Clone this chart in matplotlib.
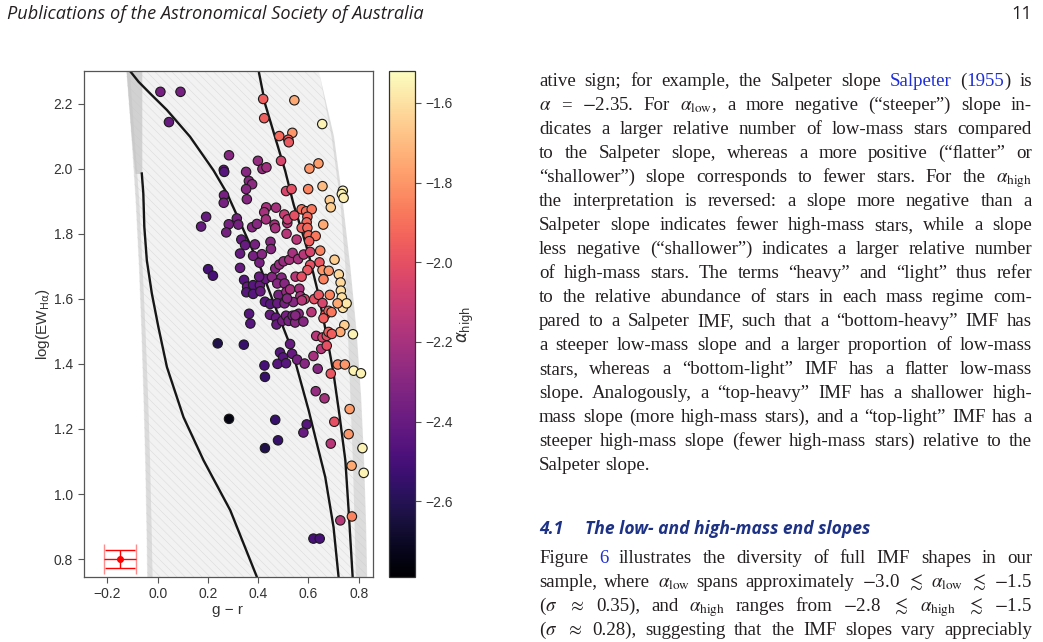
import re
import matplotlib
matplotlib.use("Agg")
import matplotlib.pyplot as plt

W, H = 1043, 642

# ---- scatter points: g - r, log(EW_Halpha), alpha_high ----
gr = [0.011, 0.091, 0.045, 0.420, 0.544, 0.424, 0.655, 0.484, 0.536, 0.520,
      0.522, 0.284, 0.263, 0.265, 0.399, 0.417, 0.433, 0.491, 0.604, 0.640,
      0.352, 0.363, 0.376, 0.352, 0.355, 0.511, 0.533, 0.599, 0.656, 0.737,
      0.733, 0.740, 0.685, 0.689, 0.264, 0.263, 0.193, 0.173, 0.283, 0.273,
      0.315, 0.321, 0.376, 0.395, 0.432, 0.424, 0.471, 0.431, 0.465, 0.468,
      0.504, 0.516, 0.517, 0.544, 0.513, 0.553, 0.573, 0.591, 0.613, 0.596,
      0.593, 0.573, 0.596, 0.600, 0.629, 0.603, 0.659, 0.647, 0.704, 0.644,
      0.721, 0.728, 0.729, 0.733, 0.737, 0.752, 0.716, 0.656, 0.681, 0.660,
      0.685, 0.743, 0.727, 0.777, 0.780, 0.809, 0.717, 0.745, 0.764, 0.760,
      0.815, 0.772, 0.820, 0.773, 0.727, 0.620, 0.645, 0.333, 0.348, 0.387,
      0.328, 0.380, 0.405, 0.415, 0.449, 0.451, 0.328, 0.344, 0.356, 0.353,
      0.380, 0.380, 0.407, 0.409, 0.429, 0.455, 0.468, 0.484, 0.501, 0.524,
      0.537, 0.559, 0.581, 0.607, 0.607, 0.596, 0.549, 0.573, 0.493, 0.476,
      0.505, 0.481, 0.512, 0.527, 0.564, 0.568, 0.585, 0.623, 0.641, 0.656,
      0.667, 0.680, 0.692, 0.612, 0.427, 0.448, 0.476, 0.505, 0.540, 0.447,
      0.471, 0.473, 0.496, 0.511, 0.521, 0.537, 0.547, 0.561, 0.580, 0.364,
      0.369, 0.239, 0.343, 0.527, 0.535, 0.487, 0.499, 0.477, 0.511, 0.555,
      0.585, 0.620, 0.631, 0.651, 0.637, 0.656, 0.673, 0.680, 0.673, 0.693,
      0.689, 0.425, 0.427, 0.284, 0.468, 0.593, 0.580, 0.479, 0.427, 0.629,
      0.664, 0.703, 0.689, 0.201, 0.220, 0.574, 0.660, 0.515, 0.548, 0.404]
log_ew = [2.236, 2.236, 2.143, 2.214, 2.210, 2.155, 2.137, 2.100, 2.110, 2.089,
          2.081, 2.041, 1.996, 1.990, 2.024, 1.999, 2.004, 2.024, 2.000, 2.016,
          1.990, 1.962, 1.952, 1.937, 1.906, 1.931, 1.937, 1.937, 1.946, 1.932,
          1.922, 1.910, 1.903, 1.881, 1.918, 1.895, 1.852, 1.822, 1.829, 1.804,
          1.847, 1.828, 1.820, 1.830, 1.881, 1.866, 1.880, 1.844, 1.828, 1.817,
          1.859, 1.833, 1.844, 1.856, 1.800, 1.782, 1.875, 1.869, 1.875, 1.852,
          1.835, 1.818, 1.818, 1.795, 1.793, 1.777, 1.828, 1.748, 1.720, 1.712,
          1.675, 1.650, 1.625, 1.604, 1.572, 1.586, 1.586, 1.688, 1.686, 1.660,
          1.612, 1.519, 1.498, 1.491, 1.379, 1.371, 1.398, 1.398, 1.261, 1.184,
          1.141, 1.087, 1.065, 0.931, 0.919, 0.863, 0.863, 1.782, 1.765, 1.767,
          1.739, 1.732, 1.711, 1.737, 1.775, 1.753, 1.695, 1.658, 1.637, 1.620,
          1.642, 1.615, 1.642, 1.623, 1.661, 1.667, 1.693, 1.705, 1.715, 1.720,
          1.741, 1.722, 1.736, 1.744, 1.704, 1.688, 1.668, 1.668, 1.665, 1.647,
          1.647, 1.612, 1.621, 1.629, 1.631, 1.608, 1.599, 1.599, 1.612, 1.587,
          1.551, 1.563, 1.559, 1.559, 1.591, 1.584, 1.586, 1.586, 1.590, 1.551,
          1.542, 1.521, 1.532, 1.548, 1.532, 1.548, 1.527, 1.554, 1.530, 1.554,
          1.524, 1.463, 1.459, 1.461, 1.431, 1.435, 1.420, 1.400, 1.402, 1.413,
          1.401, 1.424, 1.486, 1.446, 1.385, 1.481, 1.486, 1.498, 1.456, 1.492,
          1.370, 1.395, 1.360, 1.231, 1.228, 1.214, 1.189, 1.165, 1.141, 1.316,
          1.294, 1.222, 1.155, 1.691, 1.671, 1.595, 1.540, 1.601, 1.549, 1.668]
alpha_high = [-2.35, -2.35, -2.40, -1.95, -1.75, -1.95, -1.55, -1.92, -1.80, -1.95,
              -1.97, -2.30, -2.40, -2.45, -2.25, -2.25, -2.22, -2.05, -1.80, -1.78,
              -2.30, -2.30, -2.28, -2.30, -2.30, -2.05, -2.00, -1.85, -1.70, -1.55,
              -1.55, -1.56, -1.65, -1.65, -2.35, -2.35, -2.40, -2.40, -2.35, -2.35,
              -2.35, -2.35, -2.30, -2.30, -2.20, -2.20, -2.20, -2.20, -2.20, -2.20,
              -2.10, -2.15, -2.10, -2.00, -2.15, -2.15, -1.90, -1.90, -1.88, -1.92,
              -1.92, -1.95, -1.92, -1.92, -1.88, -1.95, -1.75, -1.85, -1.65, -1.98,
              -1.62, -1.62, -1.60, -1.60, -1.60, -1.58, -1.75, -1.80, -1.80, -1.85,
              -1.85, -1.65, -1.75, -1.55, -1.55, -1.55, -1.85, -1.80, -1.78, -1.80,
              -1.55, -1.75, -1.55, -1.85, -2.15, -2.50, -2.50, -2.40, -2.40, -2.35,
              -2.40, -2.35, -2.35, -2.30, -2.30, -2.30, -2.40, -2.45, -2.40, -2.45,
              -2.45, -2.45, -2.40, -2.40, -2.40, -2.30, -2.30, -2.25, -2.25, -2.20,
              -2.20, -2.20, -2.15, -2.05, -2.00, -1.98, -2.15, -2.00, -2.30, -2.30,
              -2.30, -2.35, -2.25, -2.20, -2.20, -2.20, -2.05, -2.00, -1.98, -2.05,
              -1.95, -1.95, -1.88, -2.15, -2.45, -2.45, -2.40, -2.35, -2.30, -2.40,
              -2.40, -2.40, -2.35, -2.35, -2.35, -2.35, -2.30, -2.30, -2.30, -2.45,
              -2.45, -2.62, -2.55, -2.40, -2.40, -2.45, -2.45, -2.45, -2.45, -2.35,
              -2.30, -2.20, -2.15, -2.15, -2.30, -2.05, -2.00, -1.95, -2.00, -1.95,
              -1.98, -2.50, -2.55, -2.75, -2.55, -2.45, -2.40, -2.55, -2.62, -2.25,
              -2.20, -2.00, -2.15, -2.50, -2.50, -2.15, -1.95, -2.30, -2.30, -2.40]

# ---- black model tracks ----
track_a_x = [-0.110, -0.076, -0.030, 0.037, 0.129, 0.222, 0.276, 0.342, 0.408,
             0.468, 0.535, 0.601, 0.634, 0.667, 0.700, 0.720]
track_a_y = [2.300, 2.267, 2.231, 2.180, 2.098, 1.995, 1.924, 1.811, 1.698,
             1.575, 1.442, 1.257, 1.154, 1.052, 0.898, 0.745]
track_b_x = [0.402, 0.428, 0.468, 0.508, 0.541, 0.574, 0.600, 0.638, 0.674,
             0.700, 0.724, 0.747, 0.760, 0.776]
track_b_y = [2.300, 2.198, 2.095, 1.992, 1.890, 1.808, 1.740, 1.620, 1.482,
             1.370, 1.240, 1.103, 0.950, 0.745]
track_c_x = [-0.063, -0.057, -0.053, -0.043, -0.023, 0.003, 0.037, 0.103,
             0.183, 0.289, 0.395]
track_c_y = [1.985, 1.924, 1.821, 1.718, 1.616, 1.513, 1.390, 1.236,
             1.103, 0.950, 0.745]

# ---- grey envelope of the model grid ----
fan_y = [2.30, 2.10, 1.90, 1.70, 1.50, 1.30, 1.10, 0.90, 0.745]
fan_left = [-0.125, -0.105, -0.088, -0.075, -0.065, -0.057, -0.050, -0.045, -0.042]
fan_left_dark = [-0.112, -0.094, -0.075, -0.062, -0.050, -0.040, -0.032, -0.026, -0.022]
fan_right_dark = [0.64, 0.69, 0.725, 0.745, 0.755, 0.765, 0.775, 0.782, 0.787]
fan_right = [0.64, 0.70, 0.735, 0.765, 0.79, 0.808, 0.82, 0.828, 0.832]
wedge_y = [2.30, 2.10, 1.985]
wedge_left = [-0.125, -0.105, -0.09]
wedge_right = [-0.063, -0.063, -0.063]

# typical uncertainty
err_x, err_y, err_dx, err_dy = -0.15, 0.80, 0.063, 0.028

x_ticks = [-0.2, 0.0, 0.2, 0.4, 0.6, 0.8]
y_ticks = [0.8, 1.0, 1.2, 1.4, 1.6, 1.8, 2.0, 2.2]
cbar_ticks = [-2.6, -2.4, -2.2, -2.0, -1.8, -1.6]

# ---- page text ----
header = "Publications of the Astronomical Society of Australia"
page_no = "11"
A = r"$\alpha$"
AL = r"$\alpha_\mathrm{low}$"
AH = r"$\alpha_\mathrm{high}$"
para1 = [
    "ative sign; for example, the Salpeter slope @Salpeter@ (@1955@) is",
    A + " = $-$2.35. For " + AL + ", a more negative (“steeper”) slope in-",
    "dicates a larger relative number of low-mass stars compared",
    "to the Salpeter slope, whereas a more positive (“ﬂatter” or",
    "“shallower”) slope corresponds to fewer stars. For the " + AH,
    "the interpretation is reversed: a slope more negative than a",
    "Salpeter slope indicates fewer high-mass stars, while a slope",
    "less negative (“shallower”) indicates a larger relative number",
    "of high-mass stars. The terms “heavy” and “light” thus refer",
    "to the relative abundance of stars in each mass regime com-",
    "pared to a Salpeter IMF, such that a “bottom-heavy” IMF has",
    "a steeper low-mass slope and a larger proportion of low-mass",
    "stars, whereas a “bottom-light” IMF has a ﬂatter low-mass",
    "slope. Analogously, a “top-heavy” IMF has a shallower high-",
    "mass slope (more high-mass stars), and a “top-light” IMF has a",
    "steeper high-mass slope (fewer high-mass stars) relative to the",
    "Salpeter slope.",
]
heading_no = "4.1"
heading = "The low- and high-mass end slopes"
para2 = [
    "Figure @6@ illustrates the diversity of full IMF shapes in our",
    "sample, where " + AL + r" spans approximately $-$3.0 $\lesssim$ " + AL + r" $\lesssim$ $-$1.5",
    r"($\sigma$ $\approx$ 0.35), and " + AH + r" ranges from $-$2.8 $\lesssim$ " + AH + r" $\lesssim$ $-$1.5",
    r"($\sigma$ $\approx$ 0.28), suggesting that the IMF slopes vary appreciably",
]

INK = "#231f20"
LINK = "#1f2fd6"
HEAD = "#1d3185"

plt.rcParams["font.family"] = ["Liberation Sans", "DejaVu Sans"]
plt.rcParams["hatch.linewidth"] = 0.35

fig = plt.figure(figsize=(W / 100, H / 100), dpi=100)
ax = fig.add_axes([83.5 / W, 1 - 577 / H, 289 / W, 506 / H])
cax = fig.add_axes([389 / W, 1 - 577 / H, 25.5 / W, 506 / H])

ax.fill_betweenx(fan_y, fan_left, fan_right, facecolor="#f2f2f2",
                 edgecolor="#d9d9d9", hatch="\\\\\\\\", linewidth=0, zorder=1)
ax.fill_betweenx(fan_y, fan_left, fan_left_dark, color="#cccccc",
                 alpha=0.6, linewidth=0, zorder=1)
ax.fill_betweenx(wedge_y, wedge_left, wedge_right, color="#c4c4c4",
                 alpha=0.7, linewidth=0, zorder=1)
ax.fill_betweenx(fan_y, fan_right_dark, fan_right, color="#c8c8c8",
                 alpha=0.5, linewidth=0, zorder=1)

for tx, ty in [(track_a_x, track_a_y), (track_b_x, track_b_y), (track_c_x, track_c_y)]:
    ax.plot(tx, ty, color="#161616", lw=1.7, zorder=2)

sc = ax.scatter(gr, log_ew, c=alpha_high, cmap="magma", vmin=-2.79, vmax=-1.52,
                s=46, edgecolors="#1a1a1a", linewidths=0.8, zorder=3)

eb = ax.errorbar(err_x, err_y, xerr=err_dx, yerr=err_dy, fmt="o", color="red",
                 ms=4, elinewidth=1.0, capsize=11, capthick=1.0, zorder=4)
for cl in eb[1]:
    if cl.get_marker() == "|":
        cl.set_alpha(0.45)

ax.set_xlim(-0.295, 0.855)
ax.set_ylim(0.745, 2.30)
ax.set_xticks(x_ticks)
ax.set_yticks(y_ticks)
ax.set_xticklabels([f"{v:.1f}".replace("-", "\u2212") for v in x_ticks])
ax.set_yticklabels([f"{v:.1f}" for v in y_ticks])
ax.set_xlabel("g \u2212 r", fontsize=11, color="#333333", labelpad=1)
ax.set_ylabel(r"log(EW$_{\mathrm{H\alpha}}$)", fontsize=11, color="#333333", labelpad=1)
for a in (ax, cax):
    for sp in a.spines.values():
        sp.set_color("#555555")
        sp.set_linewidth(0.9)
    a.tick_params(length=4, width=0.8, color="#555555", labelcolor="#333333",
                  labelsize=10)

cb = fig.colorbar(sc, cax=cax)
cb.set_ticks(cbar_ticks)
cb.ax.set_yticklabels([f"{v:.1f}".replace("-", "\u2212") for v in cbar_ticks])
cb.outline.set_edgecolor("#333333")
cb.outline.set_linewidth(0.9)
cb.set_label(r"$\alpha_{\mathrm{high}}$", fontsize=12, color="#333333", labelpad=2)

# ---- page text ----
SANS = ["Open Sans", "DejaVu Sans"]
fig.text(7 / W, 1 - 19 / H, header, family=SANS, style="italic", size=13.1,
         color=INK, va="baseline")
fig.text(1032 / W, 1 - 19 / H, page_no, family=SANS, size=13.1, color=INK,
         va="baseline", ha="right")
fig.text(539 / W, 1 - 534 / H, heading_no, family=SANS, style="italic",
         weight="bold", size=12.6, color=HEAD, va="baseline")
fig.text(585 / W, 1 - 534 / H, heading, family=SANS, style="italic",
         weight="bold", size=12.6, color=HEAD, va="baseline")

fig.canvas.draw()
rend = fig.canvas.get_renderer()
BODY = dict(family=["Liberation Serif", "DejaVu Serif"], size=13.6,
            math_fontfamily="stix", va="baseline", ha="left")


def put_line(line, y_px, x0=539, x1=1032, justify=True):
    objs, widths = [], []
    for word in line.split(" "):
        segs = [s for s in re.split(r"(@[^@]*@)", word) if s]
        wobj, ww = [], 0.0
        for s in segs:
            col = LINK if s.startswith("@") else INK
            t = fig.text(0, 1 - y_px / H, s.strip("@"), color=col, **BODY)
            w = t.get_window_extent(rend).width
            wobj.append((t, w))
            ww += w
        objs.append(wobj)
        widths.append(ww)
    if justify and len(objs) > 1:
        gap = (x1 - x0 - sum(widths)) / (len(objs) - 1)
    else:
        gap = BODY["size"] * 0.25 * 100 / 72
    x = x0
    for wobj, ww in zip(objs, widths):
        xx = x
        for t, w in wobj:
            t.set_x(xx / W)
            xx += w
        x += ww + gap


for i, line in enumerate(para1):
    put_line(line, 86 + 24 * i, justify=(i < len(para1) - 1))
for i, line in enumerate(para2):
    put_line(line, 563 + 24 * i)

fig.savefig("out.png", dpi=100, facecolor="white")
